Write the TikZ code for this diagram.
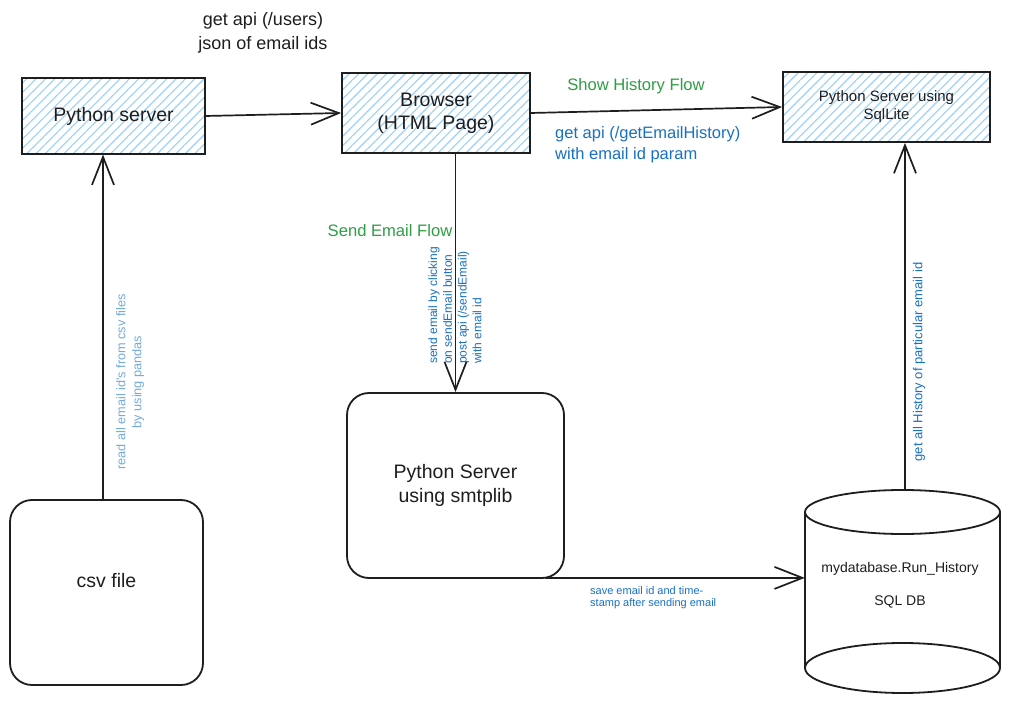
\documentclass[tikz,border=0pt]{standalone}
\usepackage{fontspec}
\setmainfont{Liberation Sans}
\usetikzlibrary{arrows.meta,patterns.meta}
\definecolor{ink}{HTML}{1E1E1E}
\definecolor{hatch}{HTML}{9CD0FA}
\definecolor{bluetxt}{HTML}{1971C2}
\definecolor{lightblue}{RGB}{117,170,218}
\definecolor{greentxt}{HTML}{2F9E44}
\newcommand\setfs[2]{\fontsize{#1}{#2}\selectfont}
\begin{document}
\begin{tikzpicture}[x=1pt,y=-1pt,
  box/.style={draw=ink,line width=1.8pt,text=ink,inner sep=0pt,align=center},
  hatched/.style={box,pattern={Lines[angle=45,distance=6.6pt,line width=1.1pt]},pattern color=hatch},
  rbox/.style={box,rounded corners=22pt},
  arr/.style={draw=ink,line width=1.7pt,-{Straight Barb[length=28pt,width=22pt]}},
  lbl/.style={inner sep=0pt,align=center},
  cyl/.style={draw=ink,line width=1.8pt},
]
\fill[white] (0,0) rectangle (1012,703);

% boxes
\node[hatched,minimum width=183pt,minimum height=76pt,font=\setfs{19.5}{23}] (ps) at (113.5,116) {Python server};
\node[hatched,minimum width=188pt,minimum height=80pt,font=\setfs{19.5}{23}] (br) at (436,113) {Browser\\(HTML Page)};
\node[hatched,minimum width=207pt,minimum height=70pt,font=\setfs{15}{18}] (sql) at (886.5,107) {Python Server using\\SqlLite};
\node[rbox,minimum width=217pt,minimum height=185pt,font=\setfs{19.5}{24}] (smtp) at (455.5,485.5) {Python Server\\using smtplib};
\node[rbox,minimum width=193pt,minimum height=185pt,font=\setfs{19.5}{23}] (csv) at (106.5,592.5) {\raisebox{5.5pt}[0pt][0pt]{csv file}};

% database cylinder
\node[inner sep=0pt,minimum width=195pt,minimum height=203pt] (db) at (902.5,591.5) {};
\coordinate (dbtop) at (902.5,512);
\coordinate (dbbot) at (902.5,668);
\draw[cyl] (dbtop) ellipse [x radius=97.5pt, y radius=22pt];
\draw[cyl] (dbbot) ellipse [x radius=97.5pt, y radius=25pt];
\draw[cyl] (805,512) -- (805,668);
\draw[cyl] (1000,512) -- (1000,668);
\node[lbl,text=ink,font=\setfs{14}{33}] (dbtxt) at (900,585.5) {mydatabase.Run\_History\\SQL DB};

% labels
\node[lbl,text=ink,font=\setfs{18}{24}] (users) at (263,33) {get api (/users)\\json of email ids};
\node[lbl,text=greentxt,font=\setfs{16.6}{20}] (shf) at (636,86) {Show History Flow};
\node[lbl,text=bluetxt,font=\setfs{16.5}{21},align=left,anchor=west] (geh) at (555,144.5) {get api (/getEmailHistory)\\with email id param};
\node[lbl,text=greentxt,font=\setfs{16.6}{20}] (sef) at (390,231) {Send Email Flow};
\node[lbl,text=bluetxt,font=\setfs{12}{14.7},align=left,rotate=90,anchor=west] (sendtxt) at (455,364) {send email by clicking\\on sendEmail button\\post api (/sendEmail)\\with email id};
\node[lbl,text=lightblue,font=\setfs{12.7}{16},rotate=90] (readtxt) at (130,382) {read all email id\textquotesingle s from csv files\\by using pandas};
\node[lbl,text=bluetxt,font=\setfs{13}{16},rotate=90] (histtxt) at (919,362) {get all History of particular email id};
\node[lbl,text=bluetxt,font=\setfs{11}{12.5},align=left,anchor=west] (savetxt) at (590,597.5) {save email id and time-\\stamp after sending email};

% connectors
\draw[arr] (ps.east) -- (br.west);
\draw[arr] (smtp.north |- br.south) -- (smtp.north);
\draw[arr] (br.east) -- (sql.west);
\draw[arr] ([xshift=-3.5pt]csv.north) -- ([xshift=-3.5pt]csv.north |- ps.south);
\draw[arr] ([xshift=-20pt,yshift=1pt]smtp.south east) -- ([yshift=1pt]smtp.south east -| db.west);
\draw[arr] ([xshift=2.5pt]db.north) -- ([xshift=2.5pt]db.north |- sql.south);
\end{tikzpicture}
\end{document}
